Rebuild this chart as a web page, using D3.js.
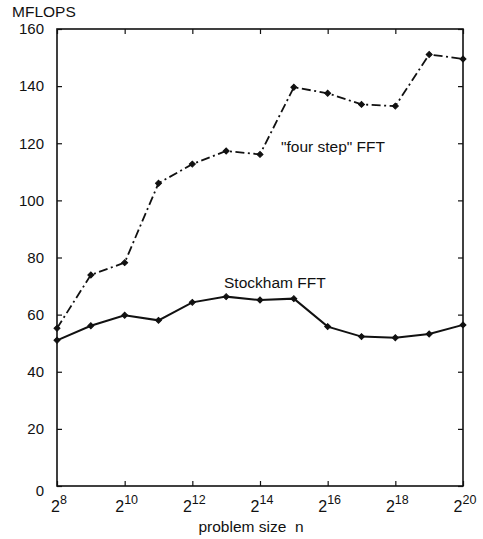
<!DOCTYPE html>
<html>
<head>
<meta charset="utf-8">
<script src="https://cdn.jsdelivr.net/npm/d3@7/dist/d3.min.js"></script>
<style>
  html, body { margin: 0; padding: 0; background: #fff; }
  svg { display: block; font-family: "Liberation Sans", Arial, Helvetica, sans-serif; }
</style>
</head>
<body>
<svg id="chart" width="483" height="539"></svg>
<script>
// Problem size exponents: n = 2^k
const exponents = [8, 9, 10, 11, 12, 13, 14, 15, 16, 17, 18, 19, 20];
const fourStepMflops = [55.2, 73.9, 78.2, 106.0, 112.7, 117.3, 116.1, 139.6, 137.5, 133.6, 133.0, 151.1, 149.5];
const stockhamMflops = [51.0, 56.1, 59.8, 58.0, 64.3, 66.3, 65.1, 65.6, 55.8, 52.3, 51.9, 53.2, 56.4];
const xTickExponents = [8, 10, 12, 14, 16, 18, 20];
const yTickValues = [0, 20, 40, 60, 80, 100, 120, 140, 160];

const svg = d3.select("#chart");
const margin = { left: 57, right: 20, top: 29, bottom: 53 };
const W = 483, H = 539;
const x = d3.scaleLinear().domain([8, 20]).range([margin.left, W - margin.right]);
const y = d3.scaleLinear().domain([0, 160]).range([H - margin.bottom, margin.top]);
const ink = "#111";

// Frame
svg.append("rect")
  .attr("x", x(8)).attr("y", y(160))
  .attr("width", x(20) - x(8)).attr("height", y(0) - y(160))
  .attr("fill", "none").attr("stroke", ink).attr("stroke-width", 1.6);

// Inward ticks on all four sides
const tickLen = 5;
const yLeft = d3.axisLeft(y).tickValues(yTickValues).tickSizeInner(-tickLen).tickSizeOuter(0).tickPadding(tickLen + 8);
const gL = svg.append("g").attr("transform", `translate(${x(8)},0)`).call(yLeft);
gL.select(".domain").remove();
gL.selectAll("line").attr("stroke", ink).attr("stroke-width", 1.2);
gL.selectAll("text").attr("font-size", 15).attr("fill", ink);
gL.selectAll(".tick").filter(d => d === 0).select("text").attr("dy", "0.62em");

const yRight = d3.axisRight(y).tickValues(yTickValues).tickSizeInner(-tickLen).tickSizeOuter(0).tickFormat("");
const gR = svg.append("g").attr("transform", `translate(${x(20)},0)`).call(yRight);
gR.select(".domain").remove();
gR.selectAll("line").attr("stroke", ink).attr("stroke-width", 1.2);

const xBottom = d3.axisBottom(x).tickValues(xTickExponents).tickSizeInner(-tickLen).tickSizeOuter(0).tickFormat("");
const gB = svg.append("g").attr("transform", `translate(0,${y(0)})`).call(xBottom);
gB.select(".domain").remove();
gB.selectAll("line").attr("stroke", ink).attr("stroke-width", 1.2);

const xTop = d3.axisTop(x).tickValues(xTickExponents).tickSizeInner(-tickLen).tickSizeOuter(0).tickFormat("");
const gT = svg.append("g").attr("transform", `translate(0,${y(160)})`).call(xTop);
gT.select(".domain").remove();
gT.selectAll("line").attr("stroke", ink).attr("stroke-width", 1.2);

// Power-of-two tick labels
const xl = svg.append("g").selectAll("text").data(xTickExponents).join("text")
  .attr("x", d => x(d) + 2)
  .attr("y", y(0) + 26)
  .attr("text-anchor", "middle")
  .attr("fill", ink)
  .attr("font-size", 16);
xl.append("tspan").text("2");
xl.append("tspan").attr("dy", -8).attr("font-size", 12.5).text(d => d);

// Axis titles
svg.append("text").attr("x", 12).attr("y", 17).attr("font-size", 15.5).attr("fill", ink).text("MFLOPS");
svg.append("text").attr("x", x(14) - 9).attr("y", 532).attr("text-anchor", "middle")
  .attr("font-size", 15.5).attr("fill", ink).style("white-space", "pre").text("problem size  n");

// Series
const line = d3.line().x(d => x(d[0])).y(d => y(d[1]));
const fourPts = exponents.map((e, i) => [e, fourStepMflops[i]]);
const stockPts = exponents.map((e, i) => [e, stockhamMflops[i]]);

svg.append("path").datum(fourPts).attr("d", line)
  .attr("fill", "none").attr("stroke", ink).attr("stroke-width", 1.8)
  .attr("stroke-dasharray", "9,3.5,2,3.5");
svg.append("path").datum(stockPts).attr("d", line)
  .attr("fill", "none").attr("stroke", ink).attr("stroke-width", 2);

// Diamond markers: squares turned 45 degrees
const marker = d3.symbol().type(d3.symbolSquare).size(18);
[fourPts, stockPts].forEach(pts => {
  svg.append("g").selectAll("path").data(pts).join("path")
    .attr("transform", d => `translate(${x(d[0])},${y(d[1])}) rotate(45)`)
    .attr("d", marker)
    .attr("fill", ink).attr("stroke", ink).attr("stroke-width", 1);
});

// Series labels
svg.append("text").attr("x", 281).attr("y", 152).attr("font-size", 15.5).attr("fill", ink).text("\"four step\" FFT");
svg.append("text").attr("x", 224).attr("y", 288).attr("font-size", 15.5).attr("fill", ink).text("Stockham FFT");
</script>
</body>
</html>
